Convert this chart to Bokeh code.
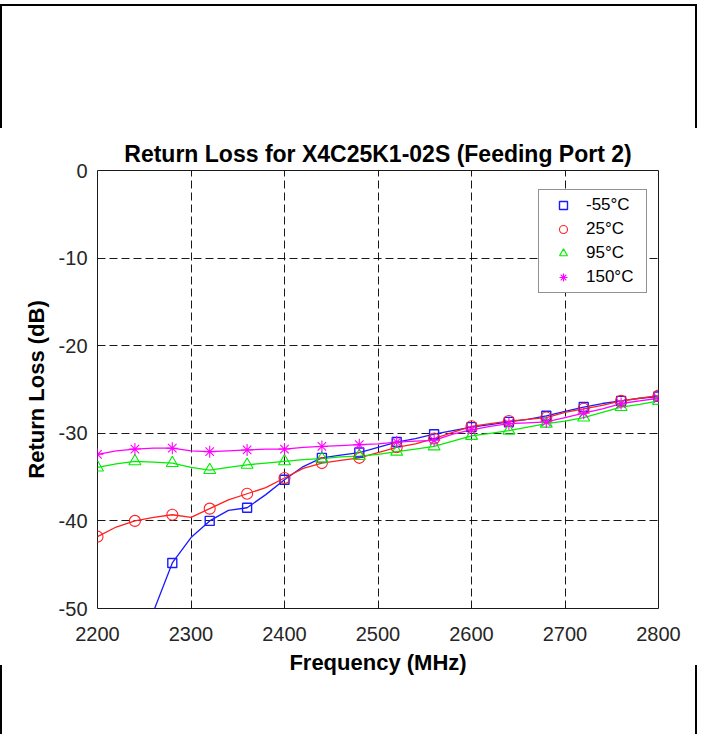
from bokeh.plotting import figure
from bokeh.models import FixedTicker, Legend, LegendItem, Range1d, Div
from bokeh.layouts import column
from bokeh.embed import file_html
from bokeh.resources import INLINE

# ---- data ----
freq_markers = [2200, 2240, 2280, 2320, 2360, 2400, 2440, 2480, 2520, 2560, 2600, 2640, 2680, 2720, 2760, 2800]
m55_markers = [-66.0, -57.0, -44.8, -40.0, -38.5, -35.3, -32.8, -32.2, -31.0, -30.1, -29.3, -28.7, -28.0, -27.0, -26.3, -25.8]
p25_markers = [-41.8, -40.0, -39.3, -38.6, -36.9, -35.1, -33.4, -32.8, -31.6, -30.6, -29.2, -28.6, -28.2, -27.2, -26.3, -25.7]
p95_markers = [-33.9, -33.2, -33.4, -34.2, -33.6, -33.2, -32.9, -32.6, -32.1, -31.5, -30.3, -29.7, -28.9, -28.2, -27.0, -26.3]
p150_markers = [-32.4, -31.8, -31.7, -32.1, -31.9, -31.8, -31.5, -31.3, -31.0, -30.8, -29.6, -28.9, -28.7, -27.7, -26.6, -26.0]

freq_line = [2200, 2220, 2240, 2260, 2280, 2300, 2320, 2340, 2360, 2380, 2400, 2420, 2440, 2460, 2480, 2500,
             2520, 2540, 2560, 2580, 2600, 2620, 2640, 2660, 2680, 2700, 2720, 2740, 2760, 2780, 2800]
m55_line = [-66.0, -61.5, -57.0, -50.3, -44.8, -41.9, -40.0, -38.8, -38.5, -37.0, -35.3, -33.8, -32.8, -32.5, -32.2, -31.6,
            -31.0, -30.6, -30.1, -29.7, -29.3, -29.0, -28.7, -28.4, -28.0, -27.5, -27.0, -26.6, -26.3, -26.0, -25.8]
p25_line = [-41.8, -40.7, -40.0, -39.6, -39.3, -39.6, -38.6, -37.6, -36.9, -36.2, -35.1, -34.0, -33.4, -33.1, -32.8, -32.2,
            -31.6, -31.2, -30.6, -29.9, -29.2, -28.9, -28.6, -28.4, -28.2, -27.6, -27.2, -26.8, -26.3, -26.0, -25.7]
p95_line = [-33.9, -33.5, -33.2, -33.3, -33.4, -33.9, -34.2, -33.9, -33.6, -33.4, -33.2, -33.0, -32.9, -32.7, -32.6, -32.4,
            -32.1, -31.8, -31.5, -30.9, -30.3, -30.0, -29.7, -29.3, -28.9, -28.6, -28.2, -27.6, -27.0, -26.7, -26.3]
p150_line = [-32.4, -32.0, -31.8, -31.7, -31.7, -32.0, -32.1, -32.0, -31.9, -31.8, -31.8, -31.6, -31.5, -31.4, -31.3, -31.2,
             -31.0, -30.9, -30.8, -30.1, -29.6, -29.2, -28.9, -28.8, -28.7, -28.2, -27.7, -27.2, -26.6, -26.3, -26.0]

x_ticks = [2200, 2300, 2400, 2500, 2600, 2700, 2800]
y_ticks = [-50, -40, -30, -20, -10, 0]
y_tick_labels = ["-50", "-40", "-30", "-20", "-10", "0"]
labels = ["-55°C", "25°C", "95°C", "150°C"]

FONT = "Liberation Sans"
DARK = "#262626"

W = 697
p = figure(width=W, height=554, output_backend="svg", toolbar_location=None,
           x_range=Range1d(2200, 2800), y_range=Range1d(-50, 0),
           title="Return Loss for X4C25K1-02S (Feeding Port 2)",
           min_border_left=97, min_border_right=W - 658, min_border_top=42, min_border_bottom=74)
p.margin = 0

p.title.text_font = FONT
p.title.text_font_size = "23px"
p.title.text_font_style = "bold"
p.title.text_color = "black"
p.title.align = "center"
p.title.standoff = 8

p.outline_line_color = "#1a1a1a"
p.outline_line_width = 1
p.outline_line_alpha = 1
p.background_fill_color = "white"
p.border_fill_color = "white"

for ax in (p.xaxis[0], p.yaxis[0]):
    ax.axis_line_color = None
    ax.major_tick_line_color = None
    ax.minor_tick_line_color = None
    ax.major_tick_in = 0
    ax.major_tick_out = 0
    ax.major_label_text_font = FONT
    ax.major_label_text_font_size = "20px"
    ax.major_label_text_color = DARK
    ax.axis_label_text_font = FONT
    ax.axis_label_text_font_size = "22px"
    ax.axis_label_text_font_style = "bold"
    ax.axis_label_text_color = "black"

p.xaxis[0].ticker = FixedTicker(ticks=x_ticks)
p.yaxis[0].ticker = FixedTicker(ticks=y_ticks)
p.yaxis[0].major_label_overrides = {t: s for t, s in zip(y_ticks, y_tick_labels)}
p.xaxis[0].axis_label = "Frequency (MHz)"
p.yaxis[0].axis_label = "Return Loss (dB)"
p.xaxis[0].major_label_standoff = 18
p.yaxis[0].major_label_standoff = 10
p.xaxis[0].axis_label_standoff = 6
p.yaxis[0].axis_label_standoff = 7

for g in (p.xgrid[0], p.ygrid[0]):
    g.grid_line_color = "black"
    g.grid_line_dash = "8 4"
    g.grid_line_width = 1
    g.grid_line_alpha = 0.9
p.xgrid[0].ticker = FixedTicker(ticks=x_ticks)
p.ygrid[0].ticker = FixedTicker(ticks=y_ticks)

BLUE, RED, GREEN, MAG = "#1a1aff", "#ff2020", "#00ee00", "#ff00ff"

p.line(freq_line, m55_line, line_color=BLUE, line_width=1.3)
p.line(freq_line, p25_line, line_color=RED, line_width=1.3)
p.line(freq_line, p95_line, line_color=GREEN, line_width=1.3)
p.line(freq_line, p150_line, line_color=MAG, line_width=1.3)

s1 = p.scatter(freq_markers, m55_markers, marker="square", size=9, fill_color=None, line_color=BLUE, line_width=1.4)
s2 = p.scatter(freq_markers, p25_markers, marker="circle", size=11, fill_color=None, line_color=RED, line_width=1.1)
s3 = p.scatter(freq_markers, p95_markers, marker="triangle", size=12, fill_color=None, line_color=GREEN, line_width=1.1)
s4 = p.scatter(freq_markers, p150_markers, marker="asterisk", size=12, fill_color=None, line_color=MAG, line_width=1.1)

legend = Legend(items=[LegendItem(label=labels[0], renderers=[s1]),
                       LegendItem(label=labels[1], renderers=[s2]),
                       LegendItem(label=labels[2], renderers=[s3]),
                       LegendItem(label=labels[3], renderers=[s4])],
                location=(441, 315))
legend.label_text_font = FONT
legend.label_text_font_size = "17px"
legend.label_text_color = "black"
legend.border_line_color = DARK
legend.border_line_width = 1
legend.background_fill_color = "white"
legend.background_fill_alpha = 1
legend.glyph_width = 38
legend.glyph_height = 20
legend.label_height = 20
legend.label_width = 55
legend.label_standoff = 4
legend.spacing = 4
legend.padding = 5
legend.margin = 0
p.add_layout(legend, "center")

# outer page frame (partial lines, as in the reference)
top_frame = Div(width=704, height=128, margin=0,
                text='<div style="height:4px"></div>'
                     '<div style="width:697px;height:124px;box-sizing:border-box;'
                     'border-top:2px solid black;border-left:2px solid black;border-right:2px solid black;"></div>')
bottom_frame = Div(width=704, height=52, margin=0,
                   text='<div style="position:relative;top:-17px;width:697px;height:69px;box-sizing:border-box;'
                        'border-left:2px solid black;border-right:2px solid black;"></div>')

layout = column(top_frame, p, bottom_frame, spacing=0)

open("out.html", "w").write(file_html(layout, INLINE))
